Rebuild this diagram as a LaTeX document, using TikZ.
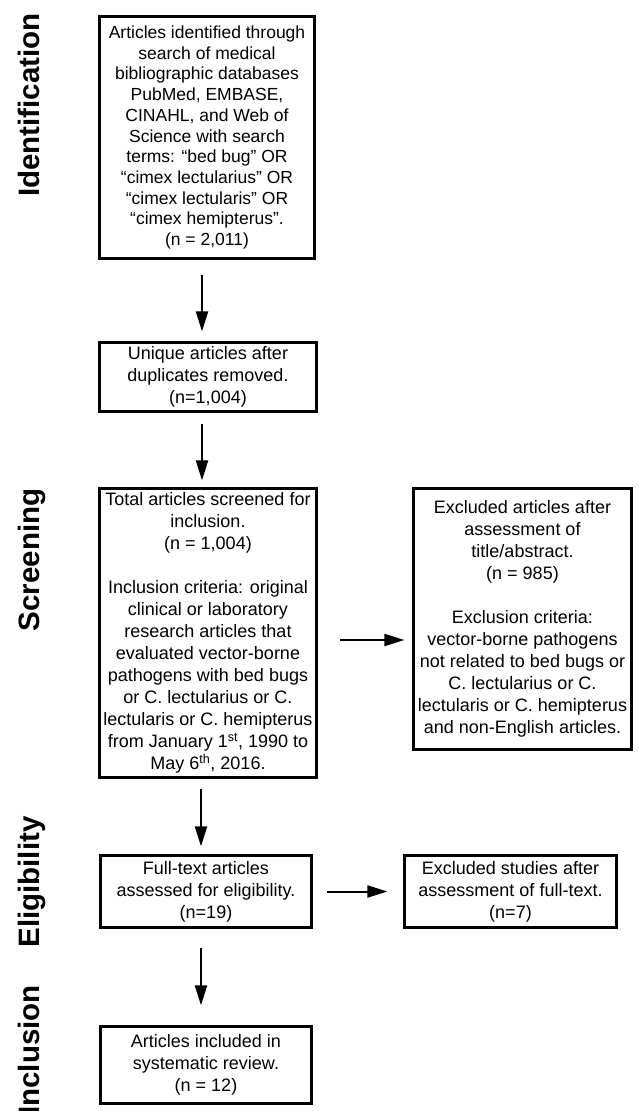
\documentclass[tikz,border=0pt]{standalone}
\usepackage{fontspec}
\setmainfont{Liberation Sans}
\usetikzlibrary{arrows.meta}
\begin{document}
\begin{tikzpicture}[x=1pt,y=-1pt,
  box/.style={draw, line width=3.3pt, align=center, inner sep=0pt, anchor=center,
    font=\fontsize{18}{22}\selectfont},
  arr/.style={line width=2pt, -{Triangle[length=20pt,width=12pt]}},
  phase/.style={rotate=90, anchor=base, font=\bfseries\fontsize{29.5}{30}\selectfont}]
\useasboundingbox (0,0) rectangle (638,1111);

\node[phase] (p1) at (39,105) {Identification};
\node[phase] (p2) at (39,560) {Screening};
\node[phase] (p3) at (39,882) {Eligibility};
\node[phase] (p4) at (39,1050) {Inclusion};

\node[box, minimum width=214.7pt, minimum height=241.7pt, font=\fontsize{17.5}{20.7}\selectfont] (b1) at (207,137.5)
  {Articles identified through\\search of medical\\bibliographic databases\\PubMed, EMBASE,\\CINAHL, and Web of\\Science with search\\terms: “bed bug” OR\\“cimex lectularius” OR\\“cimex lectularis” OR\\“cimex hemipterus”.\\(n = 2,011)};
\node[box, minimum width=216.7pt, minimum height=68.7pt] (b2) at (208,377)
  {Unique articles after\\duplicates removed.\\(n=1,004)};
\node[box, minimum width=216.7pt, minimum height=288.7pt] (b3) at (208,633)
  {Total articles screened for\\inclusion.\\(n = 1,004)\\[22pt]Inclusion criteria: original\\clinical or laboratory\\research articles that\\evaluated vector-borne\\pathogens with bed bugs\\or C. lectularius or C.\\lectularis or C. hemipterus\\from January 1\textsuperscript{st}, 1990 to\\May 6\textsuperscript{th}, 2016.};
\node[box, minimum width=217.7pt, minimum height=260.7pt] (b4) at (522.5,619)
  {Excluded articles after\\assessment of\\title/abstract.\\(n = 985)\\[22pt]Exclusion criteria:\\vector-borne pathogens\\not related to bed bugs or\\C. lectularius or C.\\lectularis or C. hemipterus\\and non-English articles.};
\node[box, minimum width=210.7pt, minimum height=71.7pt] (b5) at (206,891.5)
  {Full-text articles\\assessed for eligibility.\\(n=19)};
\node[box, minimum width=211.7pt, minimum height=71.7pt] (b6) at (510.5,891.5)
  {Excluded studies after\\assessment of full-text.\\(n=7)};
\node[box, minimum width=210.7pt, minimum height=76.7pt] (b7) at (206,1065)
  {Articles included in\\systematic review.\\(n = 12)};

\draw[arr, shorten <=14.6pt, shorten >=9.6pt] ([xshift=-5pt]b1.south) -- ([xshift=-6pt]b2.north);
\draw[arr, shorten <=10.6pt, shorten >=6.6pt] ([xshift=-6pt]b2.south) -- ([xshift=-6pt]b3.north);
\draw[arr, shorten <=9.6pt, shorten >=7.6pt] ([xshift=-7pt]b3.south) -- ([xshift=-5pt]b5.north);
\draw[arr, shorten <=18.6pt, shorten >=19.6pt] ([xshift=-5pt]b5.south) -- ([xshift=-5pt]b7.north);
\draw[arr, shorten <=21.6pt, shorten >=7.6pt] ([yshift=-7pt]b3.east) -- ([yshift=-21pt]b4.west);
\draw[arr, shorten <=13.6pt, shorten >=15.6pt] (b5.east) -- (b6.west);
\end{tikzpicture}
\end{document}
